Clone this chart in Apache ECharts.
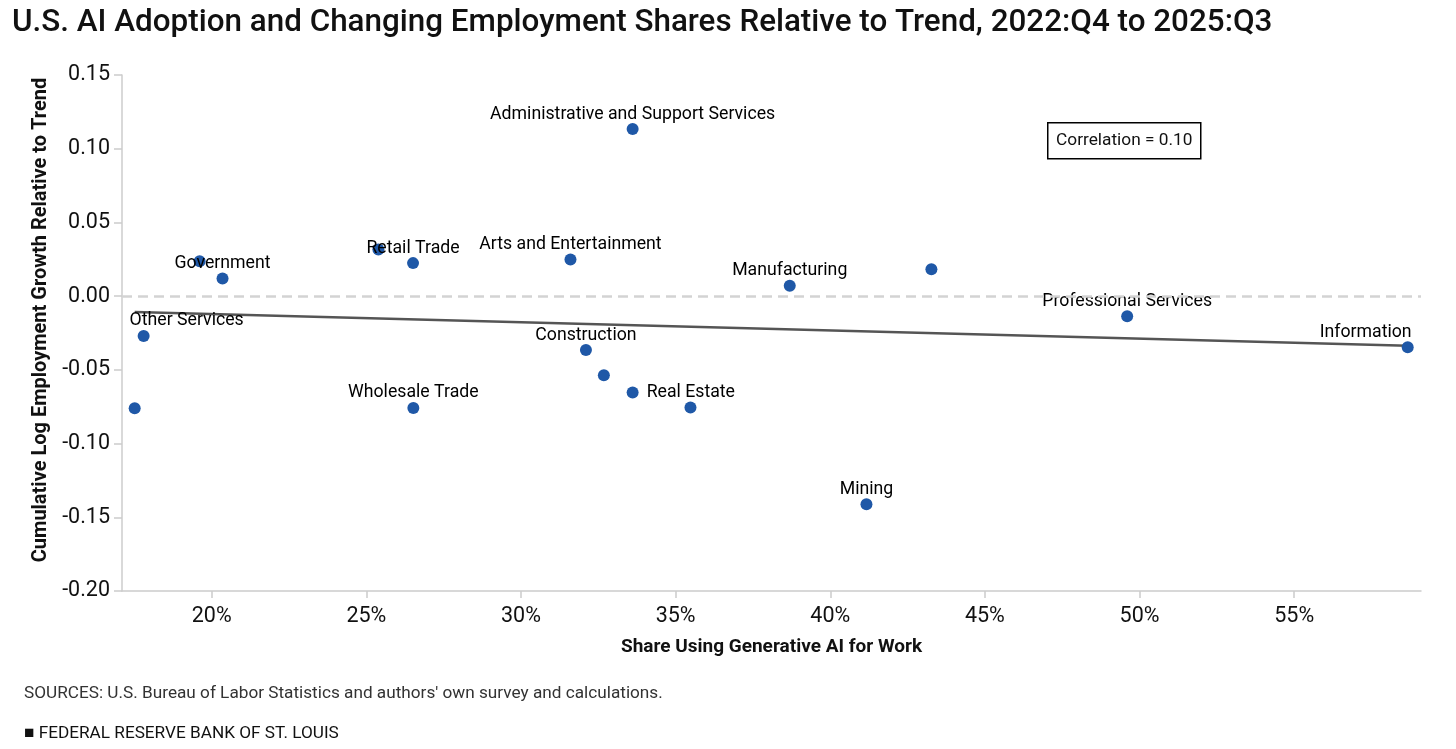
<!DOCTYPE html>
<html>
<head>
<meta charset="utf-8">
<script src="https://cdn.jsdelivr.net/npm/echarts@6/dist/echarts.min.js"></script>
<style>
html,body{margin:0;padding:0;background:#fff;}
#chart{width:1456px;height:749px;}
</style>
</head>
<body>
<div id="chart"></div>
<script>
// ---- Data ----
const industries = ['', 'Other Services', '', 'Government', '', 'Retail Trade', 'Arts and Entertainment',
  'Administrative and Support Services', 'Construction', '', 'Real Estate', '', 'Wholesale Trade',
  'Manufacturing', '', 'Professional Services', 'Information', 'Mining'];
const aiShare = [17.51, 17.80, 19.61, 20.35, 25.39, 26.51, 31.60, 33.61, 32.10, 32.68, 33.61, 35.48, 26.52,
  38.69, 43.27, 49.60, 58.67, 41.17];
const empGrowth = [-0.076, -0.027, 0.0237, 0.012, 0.0317, 0.0224, 0.0249, 0.1133, -0.0366, -0.0536, -0.0653,
  -0.0755, -0.0758, 0.0070, 0.0183, -0.0136, -0.0346, -0.1411];
const trendX = [17.51, 58.67];
const trendY = [-0.0107, -0.0337];
const xTicks = [20, 25, 30, 35, 40, 45, 50, 55];
const correlationText = 'Correlation = 0.10';
const yAxisTitle = 'Cumulative Log Employment Growth Relative to Trend';

// ---- Label placement (style config) ----
const labelPlacement = {
  'Other Services': { dx: 43 },
  'Information': { dx: -42 },
  'Real Estate': { position: 'right', distance: 8 }
};

const FONT = 'Roboto, "Noto Sans", sans-serif';

const scatterData = aiShare.map((x, i) => {
  const name = industries[i];
  const item = { value: [x, empGrowth[i]], name: name };
  if (name) {
    const p = labelPlacement[name] || {};
    item.label = {
      show: true,
      formatter: name,
      position: p.position || 'top',
      distance: p.distance !== undefined ? p.distance : 0
    };
  }
  return item;
});

const chart = echarts.init(document.getElementById('chart'), null, { renderer: 'canvas' });

chart.setOption({
  animation: false,
  backgroundColor: '#fff',
  title: {
    text: 'U.S. AI Adoption and Changing Employment Shares Relative to Trend, 2022:Q4 to 2025:Q3',
    left: 7, top: 3,
    textStyle: { fontFamily: FONT, fontSize: 31.4, fontWeight: 500, color: '#111' }
  },
  grid: { left: 122, right: 35, top: 75, bottom: 158 },
  xAxis: {
    type: 'value',
    min: 17.1, max: 59.1,
    name: 'Share Using Generative AI for Work',
    nameLocation: 'middle', nameGap: 47,
    nameTextStyle: { fontFamily: FONT, fontSize: 19, fontWeight: 'bold', color: '#111' },
    axisLine: { show: true, onZero: false, lineStyle: { color: '#ccc', width: 1.5 } },
    axisTick: { show: true, length: 7, customValues: xTicks, lineStyle: { color: '#ccc', width: 1.5 } },
    axisLabel: { customValues: xTicks, formatter: v => v + '%', margin: 15,
      fontFamily: FONT, fontSize: 21.5, color: '#111' },
    splitLine: { show: false }
  },
  yAxis: {
    type: 'value',
    min: -0.2, max: 0.15, interval: 0.05,
    axisLine: { show: true, onZero: false, lineStyle: { color: '#ccc', width: 1.5 } },
    axisTick: { show: true, length: 8, lineStyle: { color: '#ccc', width: 1.5 } },
    axisLabel: { formatter: v => v.toFixed(2), margin: 12,
      fontFamily: FONT, fontSize: 21.5, color: '#111' },
    splitLine: { show: false }
  },
  series: [
    {
      type: 'line',
      data: trendX.map((x, i) => [x, trendY[i]]),
      symbol: 'none',
      lineStyle: { color: '#555', width: 2.5 },
      z: 2,
      silent: true,
      markLine: {
        silent: true,
        symbol: 'none',
        label: { show: false },
        lineStyle: { color: '#d3d3d3', width: 2.5, type: [10, 6] },
        data: [{ yAxis: 0 }]
      }
    },
    {
      type: 'scatter',
      data: scatterData,
      symbolSize: 12,
      itemStyle: { color: '#1f58a7', opacity: 1 },
      label: { fontFamily: FONT, fontSize: 17.7, color: '#000' },
      labelLayout: function (params) {
        const p = labelPlacement[industries[params.dataIndex]];
        return (p && p.dx) ? { dx: p.dx, hideOverlap: false } : { hideOverlap: false };
      },
      z: 3
    }
  ],
  graphic: [
    { type: 'text', x: 41, y: 320, rotation: Math.PI / 2,
      style: { text: yAxisTitle, fontFamily: FONT, fontSize: 20, fontWeight: 'bold', fill: '#111',
        align: 'center', verticalAlign: 'middle' } },
    {
      type: 'group', left: 1047, top: 122,
      children: [
        { type: 'rect', shape: { x: 0, y: 0, width: 153, height: 36 },
          style: { fill: '#fff', stroke: '#000', lineWidth: 1.5 } },
        { type: 'text', x: 76.5, y: 18,
          style: { text: correlationText, fontFamily: FONT, fontSize: 17.3, fill: '#111',
            align: 'center', verticalAlign: 'middle' } }
      ]
    },
    { type: 'text', left: 24, top: 685,
      style: { text: "SOURCES: U.S. Bureau of Labor Statistics and authors' own survey and calculations.",
        fontFamily: FONT, fontSize: 17.2, fill: '#333' } },
    { type: 'text', left: 24, top: 725,
      style: { text: '\u25A0 FEDERAL RESERVE BANK OF ST. LOUIS',
        fontFamily: FONT, fontSize: 17.2, fill: '#111' } }
  ]
});
</script>
</body>
</html>
